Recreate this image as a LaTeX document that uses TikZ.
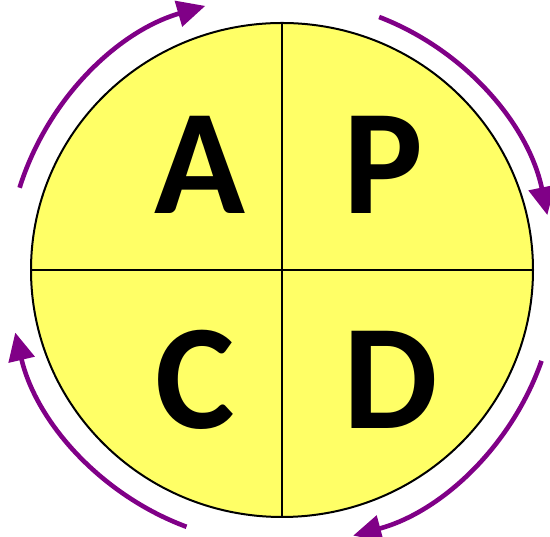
\documentclass[tikz,border=0pt]{standalone}
\usepackage{fontspec}
\setmainfont{Carlito}
\usetikzlibrary{arrows.meta,calc}
\definecolor{cycyellow}{RGB}{255,255,102}
\definecolor{cycpurple}{RGB}{128,0,135}
\begin{document}
\begin{tikzpicture}[x=1pt,y=1pt,
  cycarrow/.style={draw=cycpurple,line width=4.6pt,-{Triangle[length=28pt,width=26pt]}},
  letter/.style={anchor=base,inner sep=0pt,font=\fontsize{150}{150}\selectfont\bfseries}]
\useasboundingbox (0,0) rectangle (550,537);
\coordinate (O) at (282,267);
\fill[cycyellow] (O) ellipse[x radius=251,y radius=247];
\coordinate (L) at ($(O)+(-251,0)$);
\coordinate (R) at ($(O)+(251,0)$);
\coordinate (T) at ($(O)+(0,247)$);
\coordinate (B) at ($(O)+(0,-247)$);
\draw[line width=1.2pt] (L) -- (R);
\draw[line width=1.2pt] (T) -- (B);
\draw[line width=2pt] (O) ellipse[x radius=251,y radius=247];
\node[letter] (A) at (200,323) {A};
\node[letter] (P) at (383,323) {P};
\node[letter] (C) at (195,108) {C};
\node[letter] (D) at (391,108) {D};
\draw[cycarrow] ($(O)+(162.6:275)$) arc[start angle=162.6,end angle=106.2,radius=275];
\draw[cycarrow] ($(O)+(69:271)$) arc[start angle=69,end angle=11.7,radius=271];
\draw[cycarrow] ($(O)+(-19.3:275)$) arc[start angle=-19.3,end angle=-75,radius=275];
\draw[cycarrow] ($(O)+(249.6:274)$) arc[start angle=249.6,end angle=193.2,radius=274];
\end{tikzpicture}
\end{document}
